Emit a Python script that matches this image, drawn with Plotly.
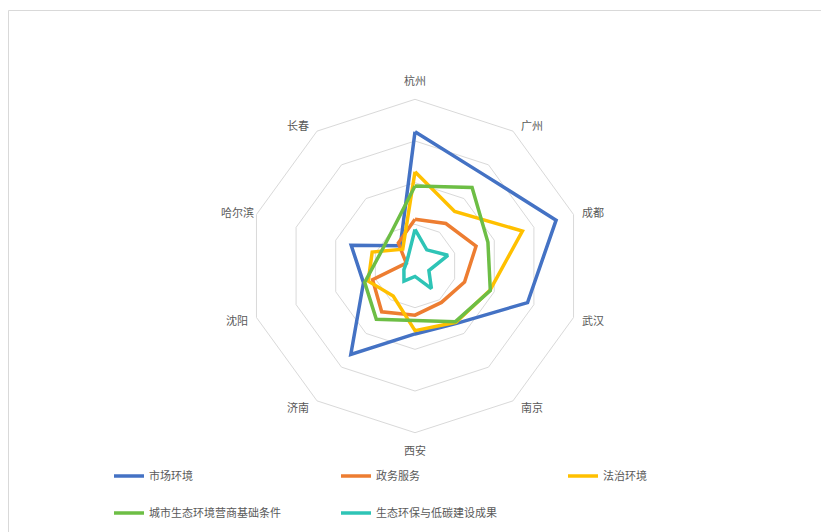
import math
import plotly.graph_objects as go

categories = ["杭州", "广州", "成都", "武汉", "南京", "西安", "济南", "沈阳", "哈尔滨", "长春"]

series_names = ["市场环境", "政务服务", "法治环境", "城市生态环境营商基础条件", "生态环保与低碳建设成果"]

market_env = [3.22, 2.74, 3.56, 2.84, 1.70, 1.63, 2.62, 1.30, 1.61, 0.60]
gov_service = [1.12, 1.26, 1.54, 1.25, 1.08, 1.18, 1.36, 1.07, 0.22, 0.68]
rule_of_law = [2.26, 1.62, 2.71, 1.89, 1.67, 1.55, 0.89, 1.18, 1.08, 0.50]
eco_base = [1.92, 2.33, 1.84, 1.90, 1.65, 1.31, 1.58, 1.27, 0.89, 0.98]
eco_lowcarbon = [0.88, 0.48, 0.83, 0.35, 0.67, 0.25, 0.45, 0.28, 0.22, 0.28]

colors = ["#4472C4", "#ED7D31", "#FFC000", "#6DBE45", "#2EC4B6"]
all_values = [market_env, gov_service, rule_of_law, eco_base, eco_lowcarbon]
legend_ids = ["legend", "legend", "legend", "legend2", "legend2"]

fig = go.Figure()
for name, vals, col, lg in zip(series_names, all_values, colors, legend_ids):
    fig.add_trace(go.Scatterpolar(
        r=vals + [vals[0]],
        theta=categories + [categories[0]],
        mode="lines",
        name=name,
        line=dict(color=col, width=3.5),
        legend=lg,
    ))

W, H = 829, 532
# page is offset by the 8px body margin
cx, cy, R = 407, 258, 166.7

font_family = "Noto Sans CJK SC, Microsoft YaHei, sans-serif"

# category labels placed just outside each outer-polygon vertex
annotations = []
n = len(categories)
for i, cat in enumerate(categories):
    a = 2 * math.pi * i / n
    s, c = math.sin(a), math.cos(a)
    vx = cx + R * s
    vy = cy - R * c
    if abs(s) < 1e-6:
        ox, oy = 0, (-19 if c > 0 else 17)
    else:
        ox, oy = 19 * (1 if s > 0 else -1), -7.5 * c
    px, py = vx + ox, vy + oy
    annotations.append(dict(
        x=px / W, y=(H - py) / H, xref="paper", yref="paper",
        text=cat, showarrow=False, xanchor="center", yanchor="middle",
        font=dict(family=font_family, size=11, color="#595959"),
    ))

legend_common = dict(
    orientation="h",
    xanchor="left",
    yanchor="middle",
    entrywidth=182,
    entrywidthmode="pixels",
    font=dict(family=font_family, size=11, color="#595959"),
    bgcolor="rgba(0,0,0,0)",
    itemclick=False,
)

fig.update_layout(
    width=W, height=H,
    margin=dict(l=0, r=0, t=0, b=0),
    paper_bgcolor="white",
    plot_bgcolor="white",
    font=dict(family=font_family, size=11, color="#595959"),
    polar=dict(
        domain=dict(x=[(cx - R) / W, (cx + R) / W], y=[(H - cy - R) / H, (H - cy + R) / H]),
        bgcolor="white",
        gridshape="linear",
        radialaxis=dict(range=[0, 4], dtick=1, tick0=0, showticklabels=False, ticks="",
                        showline=False, gridcolor="#D9D9D9", gridwidth=1),
        angularaxis=dict(direction="clockwise", rotation=90, showgrid=False, showline=True,
                         linecolor="#D9D9D9", linewidth=1, ticks="", showticklabels=False),
    ),
    annotations=annotations,
    legend=dict(x=101 / W, y=(H - 468) / H, **legend_common),
    legend2=dict(x=101 / W, y=(H - 505) / H, **legend_common),
    showlegend=True,
    shapes=[dict(type="rect", xref="paper", yref="paper",
                 x0=0.5 / W, x1=1.05, y0=-0.05, y1=(H - 2.5) / H,
                 line=dict(color="#D9D9D9", width=1), fillcolor="rgba(0,0,0,0)", layer="below")],
)

fig.write_html("out.html")
